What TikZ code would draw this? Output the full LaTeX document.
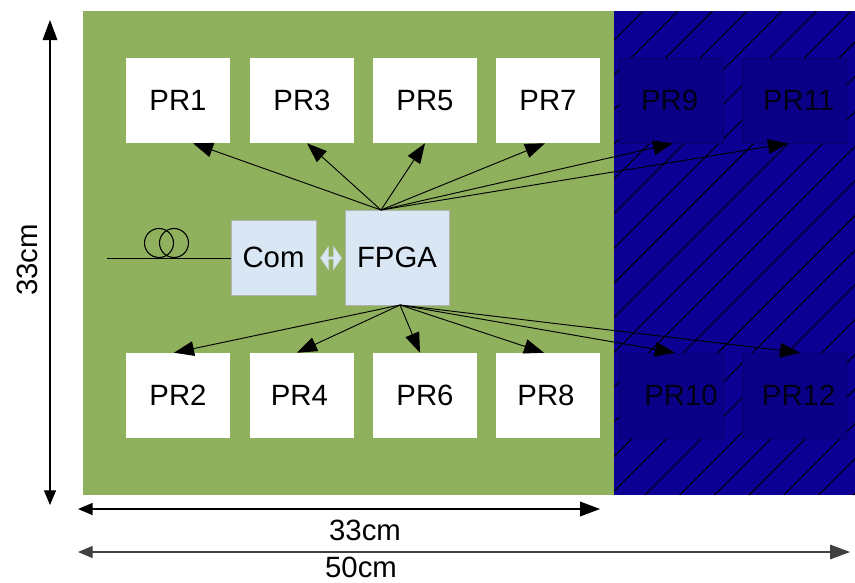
\documentclass[tikz,border=0pt]{standalone}
\usepackage{fontspec}
\setmainfont{Liberation Sans}
\usetikzlibrary{calc,arrows.meta,shapes.arrows}
\definecolor{mygreen}{RGB}{143, 176, 92}
\definecolor{myblue}{RGB}{12, 0, 148}
\definecolor{mydark}{RGB}{10, 0, 136}
\definecolor{mylight}{RGB}{217, 231, 245}

\tikzset{
    prbox/.style={fill=white, minimum width=78pt, minimum height=63.75pt, inner sep=0pt, font=\fontsize{22}{24}\selectfont},
    darkbox/.style={prbox, fill=mydark, draw=mydark!80!black, line width=0.5pt, text=black!85!myblue},
    combox/.style={fill=mylight, draw=gray!60, line width=0.6pt, inner sep=0pt, font=\fontsize{22}{24}\selectfont},
    link/.style={line width=0.7pt, -{Triangle[length=15pt, width=11pt]}},
    dim/.style={line width=0.8pt, {Triangle[length=11pt, width=9pt]}-{Triangle[length=15pt, width=11pt]}},
    dimtext/.style={font=\fontsize{22}{24}\selectfont}
}

\begin{document}
\begin{tikzpicture}[x=0.75pt, y=-0.75pt]

    % --- Fondo y placa ---
    \useasboundingbox (0,0) rectangle (855,582);
    \fill[mygreen] (83,11) rectangle (614,495);
    \fill[myblue] (614,11) rectangle (855,495);

    % Rayado de la zona azul
    \begin{scope}
        \clip (614,11) rectangle (855,495);
        \foreach \k in {-14,...,7} {
            \draw[black, line width=0.7pt] ({645+34.7*\k},495) -- ({645+34.7*\k+484},11);
        }
    \end{scope}

    % --- Modulos PR (indice arriba/abajo, x, estilo, ajuste del texto) ---
    \foreach \i/\j/\px/\s/\ki/\kj in {
        1/2/178/prbox/0pt/0pt,
        3/4/302/prbox/0pt/-4pt,
        5/6/425/prbox/0pt/0pt,
        7/8/548/prbox/0pt/-3pt,
        9/10/671/darkbox/-2pt/15pt,
        11/12/794/darkbox/7pt/7pt}{
        \node[\s] (pr\i) at (\px,100.5) {\hspace*{\ki}PR\i};
        \node[\s] (pr\j) at (\px,395.5) {\hspace*{\kj}PR\j};
    }

    % --- Com y FPGA ---
    \node[combox, minimum width=63.75pt, minimum height=56.25pt] (com) at (273.5,257.5) {\raisebox{-3pt}{Com}};
    \node[combox, minimum width=78pt, minimum height=71.25pt] (fpga) at (397,257.5) {FPGA};
    \node[double arrow, double arrow head extend=1.5pt, double arrow tip angle=110, fill=mylight, draw=gray!40, line width=0.3pt,
        minimum width=18pt, minimum height=16pt, inner sep=0pt] (bus) at (331,258) {};

    % --- Fibra ---
    \coordinate (fibre) at (107,258);
    \draw[line width=0.6pt] (fibre) -- (com.west |- fibre);
    \draw[line width=0.8pt] (159,243) circle (14.5);
    \draw[line width=0.8pt] (174,243) circle (14.5);

    % --- Enlaces desde la FPGA ---
    \coordinate (up) at (381,210);
    \coordinate (down) at (400,305);
    \foreach \i/\dx in {1/15,3/5,5/0,7/-3,9/2,11/-6} {
        \draw[link] (up) -- ($(pr\i.south)+(\dx,0)$);
    }
    \foreach \i/\dx in {2/-4,4/-5,6/-5,8/-4,10/4,12/6} {
        \draw[link] (down) -- ($(pr\i.north)+(\dx,0)$);
    }

    % --- Cotas ---
    \coordinate (v1) at (50,505);
    \coordinate (v2) at (50,20);
    \coordinate (h1) at (78,509);
    \coordinate (h2) at (600,509);
    \coordinate (h3) at (78,552);
    \coordinate (h4) at (850,552);
    \draw[dim] (v1) -- (v2);
    \draw[dim, line width=1.1pt] (h1) -- (h2);
    \draw[dim, black!75] (h3) -- (h4);
    \node[dimtext, rotate=90] (side) at (27,260) {33cm};
    \node[dimtext] (width) at (365,530) {33cm};
    \node[dimtext] (total) at (361,567) {50cm};

\end{tikzpicture}
\end{document}
